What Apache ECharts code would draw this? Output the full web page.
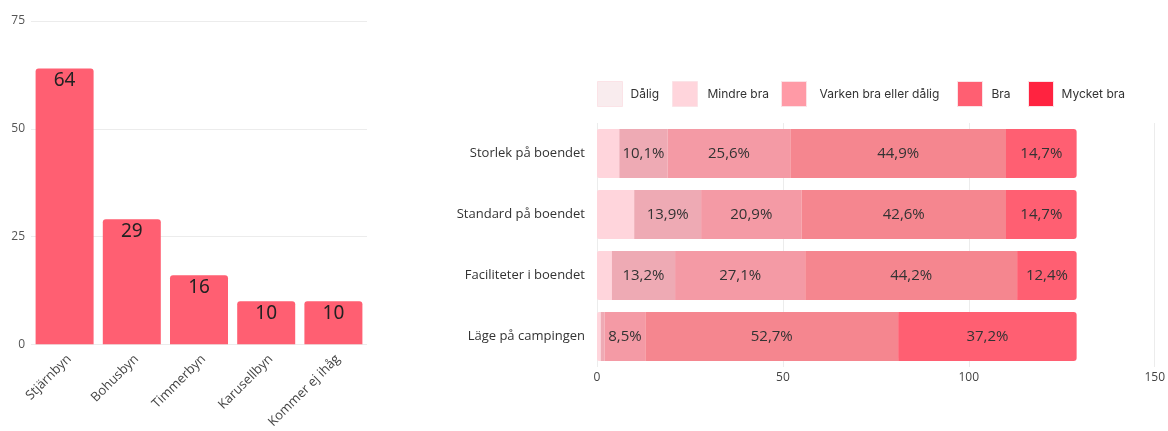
<!DOCTYPE html>
<html>
<head>
<meta charset="utf-8">
<script src="https://cdn.jsdelivr.net/npm/echarts@6/dist/echarts.min.js"></script>
<style>
  html, body { margin: 0; padding: 0; background: #fff; }
  #chart { width: 1168px; height: 431px; }
</style>
</head>
<body>
<div id="chart"></div>
<script>
// vänster diagram: boende
const byar = ['Stjärnbyn', 'Bohusbyn', 'Timmerbyn', 'Karusellbyn', 'Kommer ej ihåg'];
const byVarden = [64, 29, 16, 10, 10];

// höger diagram: betyg per fråga (antal svar)
const fragor = ['Storlek på boendet', 'Standard på boendet', 'Faciliteter i boendet', 'Läge på campingen'];
const betyg = ['Dålig', 'Mindre bra', 'Varken bra eller dålig', 'Bra', 'Mycket bra'];
const dalig = [6, 10, 4, 1];
const mindreBra = [13, 18, 17, 1];
const varken = [33, 27, 35, 11];
const bra = [58, 55, 57, 68];
const mycketBra = [19, 19, 16, 48];

// procentetiketter som de står i bilden
const daligPct = ['', '', '', ''];
const mindreBraPct = ['10,1%', '13,9%', '13,2%', ''];
const varkenPct = ['25,6%', '20,9%', '27,1%', '8,5%'];
const braPct = ['44,9%', '42,6%', '44,2%', '52,7%'];
const mycketBraPct = ['14,7%', '14,7%', '12,4%', '37,2%'];

const xTicks = [0, 50, 100, 150];

const barColors = ['#ffd5dc', '#eeaab4', '#f49aa5', '#f5868f', '#ff5f72'];
const legendColors = ['#f9ecee', '#ffd5dc', '#ff9aa6', '#ff5f72', '#ff2340'];

// var varje förklaring börjar (x) och avstånd ruta-text
const legendLeft = [597, 672, 781, 957, 1028];
const legendTextPad = [3, 5, 8, 4, 3];

const chart = echarts.init(document.getElementById('chart'));

const stackData = [dalig, mindreBra, varken, bra, mycketBra];
const stackPct = [daligPct, mindreBraPct, varkenPct, braPct, mycketBraPct];

const stackSeries = betyg.map((name, i) => ({
  name: name,
  type: 'bar',
  stack: 'betyg',
  xAxisIndex: 1,
  yAxisIndex: 1,
  barWidth: 49,
  data: stackData[i],
  itemStyle: {
    color: barColors[i],
    borderRadius: i === betyg.length - 1 ? [0, 3, 3, 0] : (i === 0 ? [2, 0, 0, 2] : 0)
  },
  emphasis: { disabled: true },
  label: {
    show: true,
    position: 'inside',
    fontFamily: 'Open Sans',
    fontSize: 15,
    color: '#333',
    formatter: (p) => stackPct[i][p.dataIndex]
  }
}));

// en förklaring per betyg så att avstånden blir som i bilden
const legends = betyg.map((name, i) => ({
  left: legendLeft[i],
  top: 81,
  padding: 0,
  itemWidth: 25,
  itemHeight: 25,
  icon: 'rect',
  textStyle: { fontFamily: 'Inter', fontSize: 12, color: '#333', padding: [0, 0, 0, legendTextPad[i]] },
  data: [{
    name: name,
    itemStyle: { color: legendColors[i], borderColor: '#fbe3e7', borderWidth: 1 }
  }]
}));

const option = {
  animation: false,
  backgroundColor: '#fff',
  legend: legends,
  grid: [
    { left: 31, right: 801, top: 21, bottom: 83 },
    { left: 597, right: 13, top: 123, bottom: 64 }
  ],
  xAxis: [
    {
      gridIndex: 0,
      type: 'category',
      data: byar,
      axisLine: { show: false },
      axisTick: { show: false },
      axisLabel: {
        rotate: 45,
        interval: 0,
        margin: 8,
        verticalAlign: 'top',
        fontFamily: 'Open Sans',
        fontSize: 13,
        color: '#444'
      }
    },
    {
      gridIndex: 1,
      type: 'value',
      min: xTicks[0],
      max: xTicks[xTicks.length - 1],
      interval: 50,
      axisLine: { show: false },
      axisTick: { show: false },
      axisLabel: { margin: 5, fontFamily: 'Open Sans', fontSize: 12, color: '#444' },
      splitLine: { show: true, lineStyle: { color: '#ececec' } }
    }
  ],
  yAxis: [
    {
      gridIndex: 0,
      type: 'value',
      min: 0,
      max: 75,
      interval: 25,
      axisLine: { show: false },
      axisTick: { show: false },
      axisLabel: { margin: 6, fontFamily: 'Open Sans', fontSize: 12, color: '#555' },
      splitLine: { show: true, lineStyle: { color: '#ececec' } }
    },
    {
      gridIndex: 1,
      type: 'category',
      inverse: true,
      data: fragor,
      axisLine: { show: false },
      axisTick: { show: false },
      axisLabel: { margin: 12, fontFamily: 'Open Sans', fontSize: 13, color: '#333' }
    }
  ],
  series: [
    {
      name: 'Boende',
      type: 'bar',
      xAxisIndex: 0,
      yAxisIndex: 0,
      barWidth: 58,
      data: byVarden,
      itemStyle: { color: '#ff5f72', borderRadius: [3, 3, 0, 0] },
      emphasis: { disabled: true },
      label: {
        show: true,
        position: 'insideTop',
        distance: 3,
        fontFamily: 'Noto Sans',
        fontSize: 19,
        color: '#222'
      }
    },
    ...stackSeries
  ]
};

chart.setOption(option);
window.addEventListener('resize', () => chart.resize());
</script>
</body>
</html>
